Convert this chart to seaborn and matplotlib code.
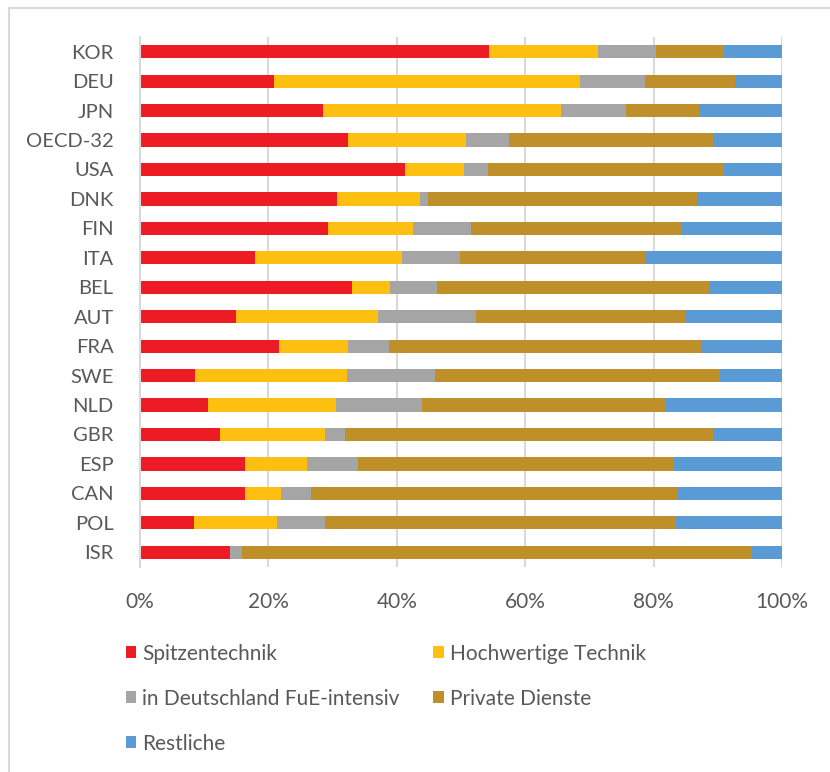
import numpy as np
import pandas as pd
import matplotlib
matplotlib.use("Agg")
import matplotlib.pyplot as plt
import seaborn as sns
from matplotlib.patches import Patch
from matplotlib.lines import Line2D

countries = ["KOR", "DEU", "JPN", "OECD-32", "USA", "DNK", "FIN", "ITA", "BEL",
             "AUT", "FRA", "SWE", "NLD", "GBR", "ESP", "CAN", "POL", "ISR"]
series_names = ["Spitzentechnik", "Hochwertige Technik", "in Deutschland FuE-intensiv",
                "Private Dienste", "Restliche"]
spitzentechnik = [54.3, 20.9, 28.5, 32.4, 41.3, 30.7, 29.3, 17.9, 33.0,
                  15.0, 21.7, 8.6, 10.6, 12.5, 16.4, 16.4, 8.4, 14.0]
hochwertige = [17.1, 47.6, 37.0, 18.4, 9.2, 12.9, 13.2, 22.9, 6.0,
               22.0, 10.7, 23.6, 19.9, 16.3, 9.6, 5.6, 13.0, 0.0]
fue_intensiv = [9.0, 10.1, 10.2, 6.7, 3.7, 1.2, 9.0, 9.1, 7.2,
                15.3, 6.4, 13.8, 13.4, 3.1, 7.9, 4.6, 7.4, 1.9]
private_dienste = [10.5, 14.1, 11.4, 31.7, 36.7, 41.9, 33.0, 28.7, 42.4,
                   32.6, 48.6, 44.4, 38.0, 57.3, 49.2, 57.2, 54.7, 79.4]
restliche = [9.1, 7.3, 12.9, 10.8, 9.1, 13.3, 15.5, 21.4, 11.4,
             15.1, 12.6, 9.6, 18.1, 10.8, 16.9, 16.2, 16.5, 4.7]
tick_labels = ["0%", "20%", "40%", "60%", "80%", "100%"]

colors = ["#ED1C24", "#FDC010", "#A5A5A5", "#BF8F2A", "#5B9BD5"]

sns.set_theme(style="white")
plt.rcParams["font.family"] = ["Lato", "DejaVu Sans"]

segs = np.array([spitzentechnik, hochwertige, fue_intensiv, private_dienste, restliche])
cum = np.cumsum(segs, axis=0)
cum = cum / cum[-1:] * 100.0

df = pd.DataFrame({"country": countries})
for i, name in enumerate(series_names):
    df[name] = cum[i]

fig = plt.figure(figsize=(8.3, 7.72), dpi=100)
ax = fig.add_axes([140/830, 1-567/772, 642/830, 530/772])

for i in range(len(series_names) - 1, -1, -1):
    sns.barplot(data=df, y="country", x=series_names[i], orient="h",
                color=colors[i], width=0.45, ax=ax, saturation=1,
                edgecolor="none", linewidth=0)

ax.set_xlim(0, 100)
ax.set_ylim(17.5, -0.5)
ax.set_xticks([0, 20, 40, 60, 80, 100])
ax.set_xticklabels(tick_labels)
ax.set_xlabel("")
ax.set_ylabel("")
ax.grid(False)
for xv in [20, 40, 60, 80, 100]:
    ax.axvline(xv, color="#D9D9D9", lw=1.5, zorder=0)
for s in ["top", "right", "bottom"]:
    ax.spines[s].set_visible(False)
ax.spines["left"].set_color("#D9D9D9")
ax.spines["left"].set_linewidth(1.5)
ax.tick_params(axis="both", length=0, labelcolor="#595959")
ax.tick_params(axis="x", pad=18, labelsize=15)
ax.tick_params(axis="y", pad=19, labelsize=14.5)

# Frame lines (top and left)
fig.add_artist(Line2D([9/830, 1.0], [1-8/772, 1-8/772], color="#D9D9D9", lw=1.5,
                      transform=fig.transFigure))
fig.add_artist(Line2D([9/830, 9/830], [0, 1-8/772], color="#D9D9D9", lw=1.5,
                      transform=fig.transFigure))

handles = [Patch(facecolor=c, edgecolor="none") for c in colors]
order = [0, 2, 4, 1, 3]
leg = fig.legend([handles[i] for i in order], [series_names[i] for i in order],
                 ncol=2, loc="upper left", bbox_to_anchor=(107/830, 1-625/772),
                 frameon=False, fontsize=15, handlelength=0.5, handleheight=0.5,
                 handletextpad=0.3, labelspacing=1.2, columnspacing=1.6,
                 labelcolor="#595959")

fig.savefig("out.png", dpi=100)
